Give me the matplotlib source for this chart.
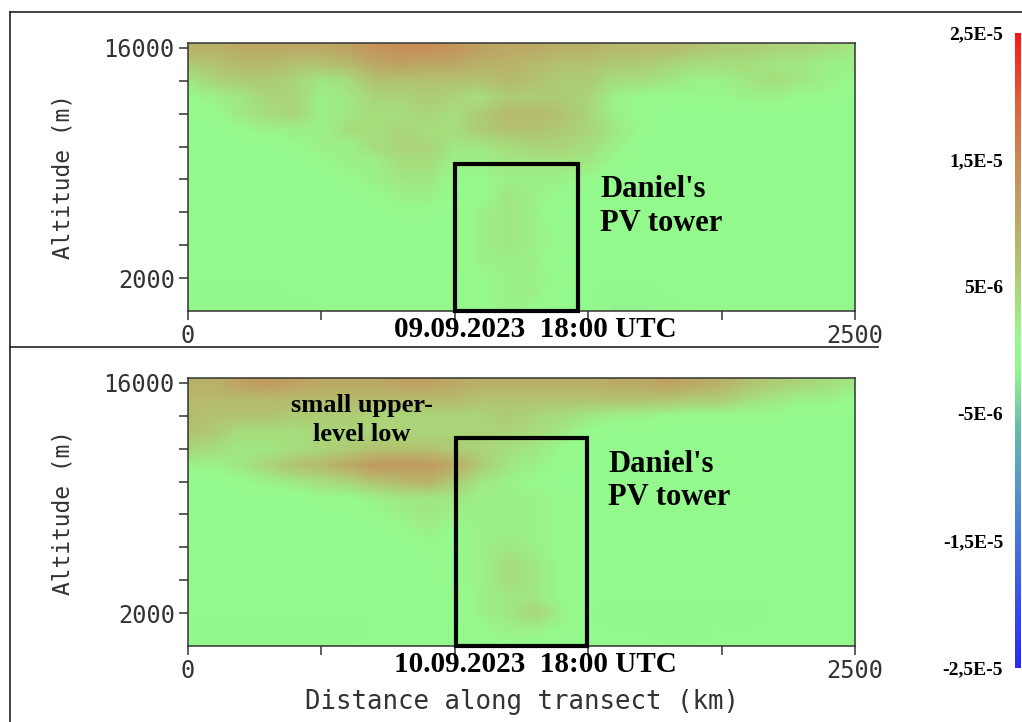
import numpy as np
import matplotlib
matplotlib.use("Agg")
import matplotlib.pyplot as plt
from matplotlib.colors import LinearSegmentedColormap
from matplotlib.patches import Rectangle
from matplotlib.lines import Line2D
import matplotlib.transforms as mtransforms

######### DATA ###############
# transect grid: distance (km) and altitude (m)
dist_km = np.arange(0, 2501, 100)
alt_m = np.arange(0, 16001, 1000)

# PV anomaly in units of 1E-6, rows listed from 16000 m (top) down to 0 m
pv_0909 = np.array([
    [9, 9, 10, 10, 10, 10, 11, 13, 14, 14, 13, 11, 10, 10, 9, 9, 8, 8, 8, 7, 6, 6, 5, 5, 4, 3],
    [6, 7, 8, 8, 7, 7, 8, 10, 11, 10, 10, 9, 9, 8, 7, 7, 6, 6, 5, 4, 4, 4, 3, 3, 2, 2],
    [3, 5, 6, 6, 5, 3, 4, 7, 7, 7, 7, 7, 8, 7, 6, 6, 4, 4, 3, 2, 2, 3, 4, 3, 2, 1],
    [1, 2, 3, 5, 5, 2, 3, 5, 5, 6, 5, 4, 6, 6, 6, 5, 2, 1, 1, 1, 1, 2, 2, 1, 1, 0],
    [0, 1, 3, 4, 5, 2, 3, 4, 4, 5, 4, 6, 8, 8, 7, 5, 2, 1, 0, 0, 0, 0, 0, 0, 0, 0],
    [0, 0, 1, 2, 2, 2, 4, 4, 5, 4, 4, 6, 7, 7, 6, 5, 3, 1, 0, 0, 0, 0, 0, 0, 0, 0],
    [0, 0, 0, 0, 1, 2, 2, 4, 5, 5, 3, 3, 4, 5, 5, 4, 2, 0, 0, 0, 0, 0, 0, 0, 0, 0],
    [0, 0, 0, 0, 0, 1, 2, 2, 4, 4, 2, 2, 3, 3, 3, 3, 1, 0, 0, 0, 0, 0, 0, 0, 0, 0],
    [0, 0, 0, 0, 0, 0, 1, 2, 3, 3, 1, 1, 2, 2, 2, 1, 0, 0, 0, 0, 0, 0, 0, 0, 0, 0],
    [0, 0, 0, 0, 0, 0, 0, 1, 2, 2, 1, 1, 3, 2, 1, 0, 0, 0, 0, 0, 0, 0, 0, 0, 0, 0],
    [0, 0, 0, 0, 0, 0, 0, 0, 1, 1, 0, 2, 3, 2, 0, 0, 0, 0, 0, 0, 0, 0, 0, 0, 0, 0],
    [0, 0, 0, 0, 0, 0, 0, 0, 0, 0, 0, 2, 3, 2, 1, 0, 0, 0, 0, 0, 0, 0, 0, 0, 0, 0],
    [0, 0, 0, 0, 0, 0, 0, 0, 0, 0, 0, 2, 3, 2, 1, 0, 0, 0, 0, 0, 0, 0, 0, 0, 0, 0],
    [0, 0, 0, 0, 0, 0, 0, 0, 0, 0, 0, 2, 2, 2, 0, 0, 0, 0, 0, 0, 0, 0, 0, 0, 0, 0],
    [0, 0, 0, 0, 0, 0, 0, 0, 0, 0, 0, 1, 2, 2, 1, 0, 0, 0, 0, 0, 0, 0, 0, 0, 0, 0],
    [-1, -1, -1, -1, 0, 0, 0, 0, 0, 0, 0, 1, 2, 2, 0, 0, -1, -1, 0, 0, 0, 0, 0, 0, 0, 0],
    [-1, -1, -1, -1, -1, 0, 0, 0, 0, 0, 0, 1, 2, 1, 0, 0, -2, -2, -1, 0, 0, 0, 0, 0, 0, 0],
])

pv_1009 = np.array([
    [9, 9, 11, 12, 11, 10, 10, 10, 11, 11, 10, 9, 9, 9, 9, 9, 10, 10, 11, 10, 9, 7, 6, 5, 4, 3],
    [8, 8, 8, 8, 8, 8, 8, 8, 8, 8, 8, 7, 7, 7, 7, 7, 7, 7, 7, 6, 6, 4, 3, 2, 2, 1],
    [8, 7, 7, 7, 6, 6, 6, 5, 5, 5, 5, 5, 6, 5, 4, 3, 2, 2, 1, 1, 1, 1, 1, 0, 0, 0],
    [7, 6, 4, 4, 4, 5, 5, 5, 5, 5, 5, 5, 5, 4, 3, 1, 0, 0, 0, 0, 0, 0, 0, 0, 0, 0],
    [5, 4, 3, 3, 4, 5, 6, 7, 7, 7, 6, 5, 4, 3, 1, 0, 0, 0, 0, 0, 0, 0, 0, 0, 0, 0],
    [2, 2, 3, 5, 7, 8, 10, 12, 12, 12, 10, 6, 3, 2, 1, 0, 0, 0, 0, 0, 0, 0, 0, 0, 0, 0],
    [0, 0, 1, 2, 3, 4, 5, 7, 8, 9, 6, 3, 2, 1, 0, 0, 0, 0, 0, 0, 0, 0, 0, 0, 0, 0],
    [0, 0, 0, 0, 0, 1, 1, 2, 3, 3, 3, 2, 2, 2, 1, 0, 0, 0, 0, 0, 0, 0, 0, 0, 0, 0],
    [0, 0, 0, 0, 0, 0, 0, 1, 2, 3, 2, 2, 2, 2, 1, 0, 0, 0, 0, 0, 0, 0, 0, 0, 0, 0],
    [0, 0, 0, 0, 0, 0, 0, 0, 1, 2, 1, 2, 2, 2, 1, 0, 0, 0, 0, 0, 0, 0, 0, 0, 0, 0],
    [0, 0, 0, 0, 0, 0, 0, 0, 0, 1, 1, 2, 3, 2, 1, 0, 0, 0, 0, 0, 0, 0, 0, 0, 0, 0],
    [0, 0, 0, 0, 0, 0, 0, 0, 0, 0, 1, 2, 4, 3, 1, 0, 0, 0, 0, 0, 0, 0, 0, 0, 0, 0],
    [0, 0, 0, 0, 0, 0, 0, 0, 0, 0, 1, 2, 4, 3, 1, 0, 0, 0, 0, 0, 0, 0, 0, 0, 0, 0],
    [0, 0, 0, 0, 0, 0, 0, 0, 0, 0, 0, 2, 3, 3, 1, 0, 0, 0, 0, 0, 0, 0, 0, 0, 0, 0],
    [0, 0, 0, 0, 0, 0, 0, 0, 0, 0, 0, 2, 3, 5, 2, 0, -1, -1, -1, -1, -1, -1, 0, 0, 0, 0],
    [-1, -1, -1, -1, -1, -1, -1, 0, 0, 0, 0, 1, 2, 2, 1, 0, 0, 0, -1, -1, 0, 0, 0, 0, 0, 0],
    [-1, -1, -1, -1, -1, -1, 0, 0, 0, 0, 0, 1, 1, 1, 0, 0, 0, 0, 0, 0, 0, 0, 0, 0, 0, 0],
])

panel_dates = ["09.09.2023  18:00 UTC", "10.09.2023  18:00 UTC"]
# PV tower boxes: (x0 km, x1 km, top m)
tower_boxes = [(1000, 1460, 8950), (1005, 1495, 12650)]

xticks = [0, 500, 1000, 1500, 2000, 2500]
xticklabels = ["0", "", "", "", "", "2500"]
yticks = [2000, 4000, 6000, 8000, 10000, 12000, 14000, 16000]
yticklabels = ["2000", "", "", "", "", "", "", "16000"]

cbar_ticks = [2.5e-5, 1.5e-5, 5e-6, -5e-6, -1.5e-5, -2.5e-5]
cbar_labels = ["2,5E-5", "1,5E-5", "5E-6", "-5E-6", "-1,5E-5", "-2,5E-5"]

######### COLORMAP ###############
stops = [
    (0.00, (40, 40, 255)),
    (0.20, (70, 115, 225)),
    (0.38, (100, 190, 170)),
    (0.47, (146, 248, 141)),
    (0.52, (150, 250, 140)),
    (0.58, (166, 222, 124)),
    (0.66, (182, 186, 108)),
    (0.72, (190, 162, 98)),
    (0.80, (203, 138, 84)),
    (0.90, (228, 88, 55)),
    (1.00, (255, 20, 20)),
]
pv_cmap = LinearSegmentedColormap.from_list(
    "pv", [(p, tuple(c / 255 for c in rgb)) for p, rgb in stops], N=256)

mono = "DejaVu Sans Mono"
serif = "Liberation Serif"
axcol = "#333333"

fig = plt.figure(figsize=(10.22, 7.22), dpi=100)
ax1 = fig.add_axes([0.184, 0.5693, 0.6526, 0.3711])
ax2 = fig.add_axes([0.184, 0.1053, 0.6526, 0.3711])

dx = (dist_km[1] - dist_km[0]) / 2
dy = (alt_m[1] - alt_m[0]) / 2
extent = [dist_km[0] - dx, dist_km[-1] + dx, alt_m[0] - dy, alt_m[-1] + dy]

for ax, pv, date, box in zip([ax1, ax2], [pv_0909, pv_1009], panel_dates, tower_boxes):
    im = ax.imshow(np.flipud(pv) * 1e-6, origin="lower", extent=extent, aspect="auto",
                   cmap=pv_cmap, vmin=-2.5e-5, vmax=2.5e-5, interpolation="bilinear")
    ax.set_xlim(0, 2500)
    ax.set_ylim(0, 16300)
    ax.set_xticks(xticks)
    ax.set_xticklabels(xticklabels)
    ax.set_yticks(yticks)
    ax.set_yticklabels(yticklabels)
    ax.tick_params(direction="out", length=6.5, width=1.1, colors=axcol,
                   labelsize=17, pad=3)
    for lab in ax.get_xticklabels() + ax.get_yticklabels():
        lab.set_family(mono)
    for s in ax.spines.values():
        s.set_color(axcol)
        s.set_linewidth(1.1)
    ax.set_ylabel("Altitude (m)", family=mono, fontsize=16.5, color=axcol, labelpad=21)

    # PV tower box
    x0, x1, top = box
    ax.add_patch(Rectangle((x0, 0), x1 - x0, top, fill=False, edgecolor="black",
                           linewidth=3, clip_on=False, zorder=5))
    # date under the panel
    trans = mtransforms.blended_transform_factory(ax.transData, ax.transAxes)
    ax.text(772, -0.068, date, transform=trans, ha="left", va="center",
            family=serif, fontweight="bold", fontsize=21, color="black")

ax1.text(1544, 6350, "Daniel's\nPV tower", ha="left", va="center", family=serif,
         fontweight="bold", fontsize=22, linespacing=1.2)
ax2.text(1574, 10050, "Daniel's\nPV tower", ha="left", va="center", family=serif,
         fontweight="bold", fontsize=22, linespacing=1.2)
ax2.text(652, 13750, "small upper-\nlevel low", ha="center", va="center", family=serif,
         fontweight="bold", fontsize=19, linespacing=1.35)

ax2.set_xlabel("Distance along transect (km)", family=mono, fontsize=18.5, color=axcol,
               labelpad=4)

######### COLORBAR ###############
cax = fig.add_axes([0.9932, 0.0748, 0.006, 0.8795])
cb = fig.colorbar(im, cax=cax, ticks=cbar_ticks)
cb.outline.set_visible(False)
cax.yaxis.set_ticks_position("left")
cax.set_yticklabels(cbar_labels)
cax.tick_params(length=0, pad=8.5, labelsize=14)
for lab in cax.get_yticklabels():
    lab.set_family(serif)
    lab.set_fontweight("bold")

######### FRAME LINES ###############
fl = dict(color="#222222", linewidth=1.2, transform=fig.transFigure)
fig.add_artist(Line2D([10 / 1022, 1.0], [1 - 12 / 722, 1 - 12 / 722], **fl))
fig.add_artist(Line2D([10 / 1022, 10 / 1022], [0, 1 - 12 / 722], **fl))
fig.add_artist(Line2D([10 / 1022, 878 / 1022], [1 - 347 / 722, 1 - 347 / 722], **fl))

fig.savefig("out.png", dpi=100)
